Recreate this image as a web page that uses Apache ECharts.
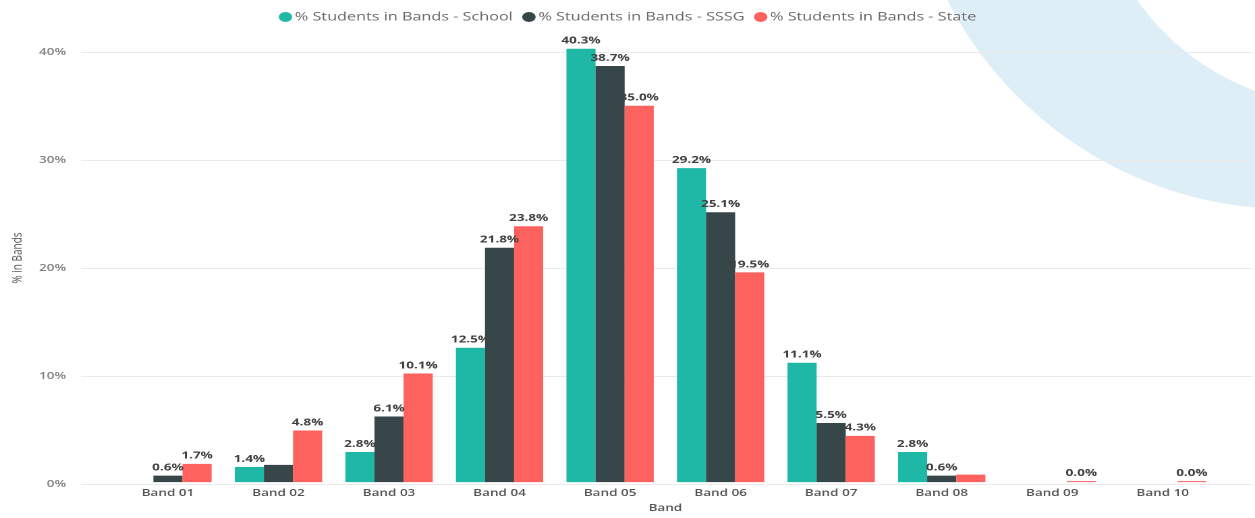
<!DOCTYPE html>
<html>
<head>
<meta charset="utf-8">
<script src="https://cdn.jsdelivr.net/npm/echarts@6/dist/echarts.min.js"></script>
<style>
  html, body { margin: 0; padding: 0; background: #fff; overflow: hidden; }
  #stage { width: 1255px; height: 518px; overflow: hidden; position: relative; }
  /* the report visual is laid out narrow and stretched to the page width */
  #chart { width: 930px; height: 518px; transform-origin: 0 0; }
</style>
</head>
<body>
<div id="stage"><div id="chart"></div></div>
<script>
const bands = ['Band 01', 'Band 02', 'Band 03', 'Band 04', 'Band 05',
               'Band 06', 'Band 07', 'Band 08', 'Band 09', 'Band 10'];
const seriesNames = ['% Students in Bands - School',
                     '% Students in Bands - SSSG',
                     '% Students in Bands - State'];
const schoolPct = [null, 1.4, 2.8, 12.5, 40.3, 29.2, 11.1, 2.8, null, null];
const sssgPct   = [0.6, 1.6, 6.1, 21.8, 38.7, 25.1, 5.5, 0.6, null, null];
const statePct  = [1.7, 4.8, 10.1, 23.8, 35.0, 19.5, 4.3, 0.7, 0.0, 0.0];
const yTicks = [0, 10, 20, 30, 40];
// data labels dropped where they would collide with a neighbour
const hiddenSchool = [];
const hiddenSssg = ['Band 02'];
const hiddenState = ['Band 08'];

const colors = ['#1FB8A6', '#374649', '#FD625E'];
const FONT = "'Open Sans', 'Noto Sans', sans-serif";
const W = 930, STRETCH = 1255 / W;

const el = document.getElementById('chart');
el.style.transform = 'scaleX(' + STRETCH + ')';
const chart = echarts.init(el, null, { renderer: 'canvas', devicePixelRatio: 2 });

function items(values, hidden) {
  return values.map((v, i) => {
    if (v === null) return null;
    const d = { value: v };
    if (hidden.indexOf(bands[i]) >= 0) d.label = { show: false };
    return d;
  });
}

function barSeries(name, values, hidden, color) {
  return {
    name: name,
    type: 'bar',
    xAxisIndex: 1,
    yAxisIndex: 1,
    data: items(values, hidden),
    barGap: '0%',
    barCategoryGap: '21%',
    barMinHeight: 1,
    clip: false,
    itemStyle: { color: color },
    label: {
      show: true,
      position: 'top',
      distance: 3,
      fontFamily: FONT,
      fontSize: 10,
      fontWeight: 'bold',
      color: '#404040',
      formatter: p => p.value.toFixed(1) + '%'
    }
  };
}

const yMin = yTicks[0], yMax = yTicks[yTicks.length - 1], yStep = yTicks[1] - yTicks[0];

chart.setOption({
  animation: false,
  backgroundColor: '#fff',
  color: colors,
  graphic: {
    elements: [
      {
        type: 'circle', z: -10, silent: true,
        x: 1289 / STRETCH, y: -175, scaleX: 1 / STRETCH,
        shape: { cx: 0, cy: 0, r: 384 },
        style: { fill: '#DDEEF7' }
      },
      {
        type: 'circle', z: -9, silent: true,
        x: 1340.5 / STRETCH, y: -142.5, scaleX: 1 / STRETCH,
        shape: { cx: 0, cy: 0, r: 248.4 },
        style: { fill: '#FFFFFF' }
      }
    ]
  },
  legend: {
    top: 6,
    left: 'center',
    icon: 'circle',
    itemWidth: 10,
    itemHeight: 10,
    itemGap: 7,
    data: seriesNames,
    textStyle: { fontFamily: FONT, fontSize: 12, color: '#6a6a6a', padding: [0, 0, 0, -3] }
  },
  grid: [
    { left: 59, right: 2, top: 52, bottom: 34 },
    { left: 83.5, right: 27.4, top: 52, bottom: 34 }
  ],
  xAxis: [
    { gridIndex: 0, type: 'category', data: bands, show: false },
    {
      gridIndex: 1,
      type: 'category',
      data: bands,
      axisLine: { show: false },
      axisTick: { show: false },
      axisLabel: { margin: 6, fontFamily: FONT, fontSize: 10, fontWeight: 600, color: '#555' },
      name: 'Band',
      nameLocation: 'middle',
      nameGap: 18,
      nameTextStyle: { fontFamily: FONT, fontSize: 10, fontWeight: 600, color: '#555' }
    }
  ],
  yAxis: [
    {
      gridIndex: 0,
      type: 'value',
      min: yMin, max: yMax, interval: yStep,
      axisLine: { show: false },
      axisTick: { show: false },
      splitLine: { lineStyle: { color: '#EAEAEA', width: 1 } },
      axisLabel: {
        margin: 11, fontFamily: FONT, fontSize: 10, fontWeight: 600, color: '#808080',
        formatter: v => v + '%'
      },
      name: '% in Bands',
      nameLocation: 'middle',
      nameRotate: 90,
      nameGap: 42,
      nameTextStyle: { fontFamily: FONT, fontSize: 10, color: '#555', padding: [0, 0, 0, 20] }
    },
    {
      gridIndex: 1,
      type: 'value',
      min: yMin, max: yMax, interval: yStep,
      show: false,
      splitLine: { show: false }
    }
  ],
  series: [
    barSeries(seriesNames[0], schoolPct, hiddenSchool, colors[0]),
    barSeries(seriesNames[1], sssgPct, hiddenSssg, colors[1]),
    barSeries(seriesNames[2], statePct, hiddenState, colors[2])
  ]
});
</script>
</body>
</html>
